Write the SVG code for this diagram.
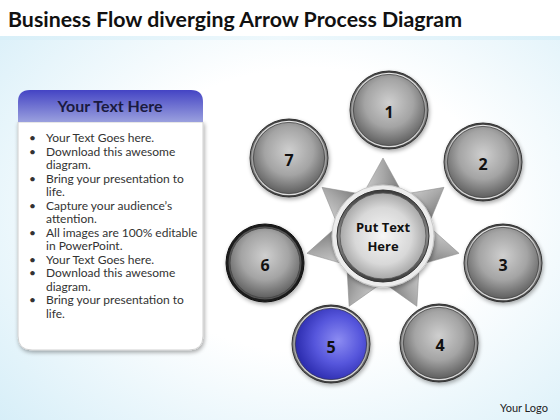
<svg xmlns="http://www.w3.org/2000/svg" xmlns:xlink="http://www.w3.org/1999/xlink" width="560" height="420" viewBox="0 0 560 420">
<defs>
<radialGradient id="bg" cx="0.55" cy="0.5" r="0.75">
<stop offset="0.45" stop-color="#ffffff"/>
<stop offset="1" stop-color="#d6eef8"/>
</radialGradient>
<linearGradient id="band" x1="0" y1="0" x2="1" y2="0">
<stop offset="0" stop-color="#d8eff8"/>
<stop offset="0.5" stop-color="#eef8fc"/>
<stop offset="1" stop-color="#d8eff8"/>
</linearGradient>
<linearGradient id="hdr" x1="0" y1="0" x2="0" y2="1">
<stop offset="0" stop-color="#4444c4"/>
<stop offset="1" stop-color="#9aa0de"/>
</linearGradient>
<linearGradient id="ring" x1="0" y1="0" x2="0" y2="1">
<stop offset="0" stop-color="#3c3c3c"/>
<stop offset="0.5" stop-color="#8a8a8a"/>
<stop offset="1" stop-color="#3c3c3c"/>
</linearGradient>
<linearGradient id="ringIn" x1="0" y1="0" x2="0" y2="1">
<stop offset="0" stop-color="#e8e8e8"/>
<stop offset="0.5" stop-color="#9a9a9a"/>
<stop offset="1" stop-color="#e0e0e0"/>
</linearGradient>
<radialGradient id="gray" cx="0.5" cy="0.4" r="0.62">
<stop offset="0" stop-color="#cfcfcf"/>
<stop offset="0.55" stop-color="#a4a4a4"/>
<stop offset="1" stop-color="#5a5a5a"/>
</radialGradient>
<radialGradient id="blue" cx="0.6" cy="0.45" r="0.6">
<stop offset="0" stop-color="#8c8cf2"/>
<stop offset="0.55" stop-color="#5656dc"/>
<stop offset="1" stop-color="#2c2cae"/>
</radialGradient>
<radialGradient id="hub" cx="0.5" cy="0.5" r="0.55">
<stop offset="0" stop-color="#f6f6f6"/>
<stop offset="0.6" stop-color="#d8d8d8"/>
<stop offset="1" stop-color="#9a9a9a"/>
</radialGradient>
<linearGradient id="tri" x1="0" y1="0" x2="1" y2="0">
<stop offset="0" stop-color="#d0d0d0"/>
<stop offset="0.5" stop-color="#a8a8a8"/>
<stop offset="1" stop-color="#767676"/>
</linearGradient>
<filter id="sh" x="-20%" y="-20%" width="140%" height="140%">
<feGaussianBlur in="SourceAlpha" stdDeviation="2"/>
<feOffset dx="1" dy="2" result="b"/>
<feComponentTransfer><feFuncA type="linear" slope="0.35"/></feComponentTransfer>
<feMerge><feMergeNode/><feMergeNode in="SourceGraphic"/></feMerge>
</filter>
<polygon id="spike" points="362,196 383,158 404,196"/>
</defs>
<style>
.title{font-family:Lato,"Open Sans","Liberation Sans",sans-serif;font-weight:bold;font-size:20px;fill:#111;}
.hdrt{font-family:Lato,"Open Sans","Liberation Sans",sans-serif;font-weight:bold;font-size:16px;fill:#1a1a40;text-anchor:middle;}
.body{font-family:Lato,"Open Sans","Liberation Sans",sans-serif;font-size:12px;fill:#333;}
.num{font-family:"Open Sans","Liberation Sans",sans-serif;font-weight:bold;font-size:16px;fill:#111;text-anchor:middle;}
.hubt{font-family:"Open Sans","Liberation Sans",sans-serif;font-weight:bold;font-size:13px;fill:#111;text-anchor:middle;}
.logo{font-family:Lato,"Open Sans","Liberation Sans",sans-serif;font-size:11px;fill:#222;}
.outer{fill:url(#ring);stroke:#333;stroke-width:1;}
.mid{fill:url(#ringIn);}
.inner{fill:url(#gray);stroke:#444;stroke-width:0.8;}
.innerb{fill:url(#blue);stroke:#33335a;stroke-width:0.8;}
</style>
<rect x="0" y="0" width="560" height="420" fill="url(#bg)"/>
<rect x="0" y="0" width="560" height="36" fill="#ffffff"/>
<rect x="0" y="36" width="560" height="4" fill="url(#band)"/>
<text class="title" x="8" y="27" textLength="454" lengthAdjust="spacingAndGlyphs">Business Flow diverging Arrow Process Diagram</text>

<g id="textpanel">
<path d="M18,122 H203 V336 Q203,350 189,350 H32 Q18,350 18,336 Z" fill="#ffffff" stroke="#d0d0d0" stroke-width="1" filter="url(#sh)"/>
<path d="M30,90 H191 Q203,90 203,102 V122 H18 V102 Q18,90 30,90 Z" fill="url(#hdr)"/>
<text class="hdrt" x="110" y="112">Your Text Here</text>
<g class="body">
<text x="29" y="142">•</text><text x="46" y="142">Your Text Goes here.</text>
<text x="29" y="155.5">•</text><text x="46" y="155.5">Download this awesome</text>
<text x="46" y="169">diagram.</text>
<text x="29" y="182.5">•</text><text x="46" y="182.5">Bring your presentation to</text>
<text x="46" y="196">life.</text>
<text x="29" y="209.5">•</text><text x="46" y="209.5">Capture your audience’s</text>
<text x="46" y="223">attention.</text>
<text x="29" y="236.5">•</text><text x="46" y="236.5">All images are 100% editable</text>
<text x="46" y="250">in PowerPoint.</text>
<text x="29" y="263.5">•</text><text x="46" y="263.5">Your Text Goes here.</text>
<text x="29" y="277">•</text><text x="46" y="277">Download this awesome</text>
<text x="46" y="290.5">diagram.</text>
<text x="29" y="304">•</text><text x="46" y="304">Bring your presentation to</text>
<text x="46" y="317.5">life.</text>
</g>
</g>

<g id="connectors"></g>

<g id="hub">
<g fill="url(#tri)" stroke="#8a8a8a" stroke-width="0.5">
<use xlink:href="#spike"/>
<use xlink:href="#spike" transform="rotate(51.4286 383 236)"/>
<use xlink:href="#spike" transform="rotate(102.857 383 236)"/>
<use xlink:href="#spike" transform="rotate(154.286 383 236)"/>
<use xlink:href="#spike" transform="rotate(205.714 383 236)"/>
<use xlink:href="#spike" transform="rotate(257.143 383 236)"/>
<use xlink:href="#spike" transform="rotate(308.571 383 236)"/>
</g>
<circle cx="383" cy="236" r="51" fill="#ececec" stroke="#c8c8c8" stroke-width="1" filter="url(#sh)"/>
<circle cx="383" cy="236" r="46" fill="url(#ring)" stroke="#333" stroke-width="1"/>
<circle cx="383" cy="236" r="43" fill="url(#hub)" stroke="#555" stroke-width="0.8"/>
<text class="hubt" x="383" y="232">Put Text</text>
<text class="hubt" x="383" y="251">Here</text>
</g>

<g id="node1">
<circle class="outer" cx="389" cy="110" r="39" filter="url(#sh)"/>
<circle class="mid" cx="389" cy="110" r="37.3"/>
<circle class="inner" cx="389" cy="110" r="35.6"/>
<text class="num" x="389" y="118">1</text>
</g>
<g id="node2">
<circle class="outer" cx="483" cy="162" r="39" filter="url(#sh)"/>
<circle class="mid" cx="483" cy="162" r="37.3"/>
<circle class="inner" cx="483" cy="162" r="35.6"/>
<text class="num" x="483" y="170">2</text>
</g>
<g id="node3">
<circle class="outer" cx="503" cy="263" r="39" filter="url(#sh)"/>
<circle class="mid" cx="503" cy="263" r="37.3"/>
<circle class="inner" cx="503" cy="263" r="35.6"/>
<text class="num" x="503" y="271">3</text>
</g>
<g id="node4">
<circle class="outer" cx="439" cy="343" r="39" filter="url(#sh)"/>
<circle class="mid" cx="439" cy="343" r="37.3"/>
<circle class="inner" cx="439" cy="343" r="35.6"/>
<text class="num" x="440" y="351">4</text>
</g>
<g id="node5">
<circle class="outer" cx="331" cy="344" r="39" filter="url(#sh)"/>
<circle class="mid" cx="331" cy="344" r="37.3"/>
<circle class="innerb" cx="331" cy="344" r="35.6"/>
<text class="num" x="331" y="353">5</text>
</g>
<g id="node6">
<circle cx="265" cy="263" r="39" fill="#1e1e1e" stroke="#111" stroke-width="1" filter="url(#sh)"/>
<circle cx="265" cy="263" r="36.5" fill="#555"/>
<circle class="inner" cx="265" cy="263" r="35"/>
<text class="num" x="265" y="271">6</text>
</g>
<g id="node7">
<circle class="outer" cx="289" cy="158" r="39" filter="url(#sh)"/>
<circle class="mid" cx="289" cy="158" r="37.3"/>
<circle class="inner" cx="289" cy="158" r="35.6"/>
<text class="num" x="289" y="166">7</text>
</g>

<text class="logo" x="500" y="412">Your Logo</text>
</svg>
